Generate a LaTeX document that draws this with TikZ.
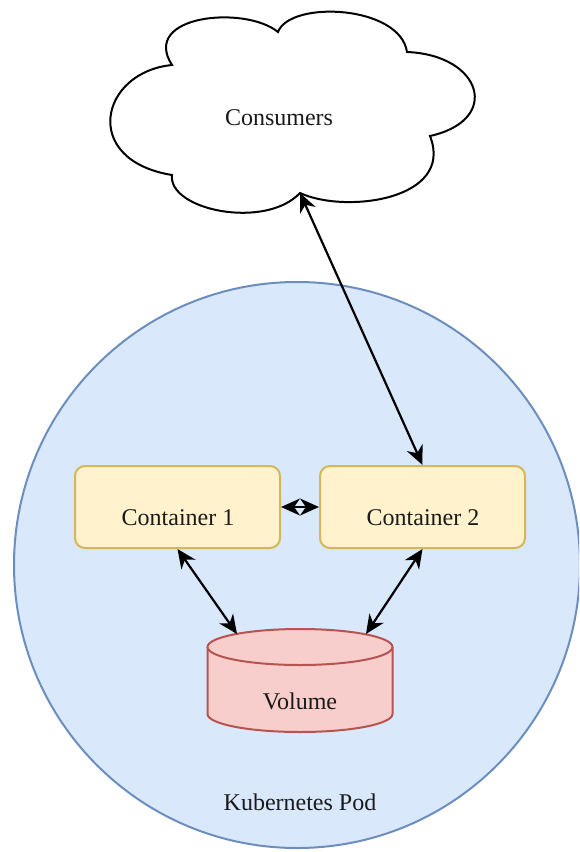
\documentclass[tikz,border=0pt]{standalone}
\usepackage{fontspec}
\setmainfont{Liberation Serif}
\usetikzlibrary{arrows.meta}
\definecolor{podfill}{HTML}{DAE8FC}
\definecolor{podline}{HTML}{6C8EBF}
\definecolor{boxfill}{HTML}{FFF2CC}
\definecolor{boxline}{HTML}{D6B656}
\definecolor{volfill}{HTML}{F8CECC}
\definecolor{volline}{HTML}{B85450}
\definecolor{txtcol}{HTML}{1A1A1A}
\tikzset{
  txt/.style={font=\fontsize{24}{28}\selectfont, text=txtcol, inner sep=0pt},
  cbox/.style={draw=boxline, fill=boxfill, line width=2pt, rounded corners=10pt,
    minimum width=205pt, minimum height=82pt, inner sep=0pt},
  tipk/.style={Stealth[length=19pt,width=17pt,inset=6pt]},
  conn/.style={line width=2.2pt, {Stealth[length=19pt,width=17pt,inset=6pt]}-{Stealth[length=19pt,width=17pt,inset=6pt]}},
}
\begin{document}
\begin{tikzpicture}[x=1pt,y=-1pt]
\useasboundingbox (0,0) rectangle (579,852);
\begin{scope}
\clip (0,0) rectangle (579,852);
% pod
\draw[fill=podfill, draw=podline, line width=2pt] (297,565) circle[radius=283pt];
\end{scope}
\node[txt] (podlabel) at (300,802) {Kubernetes Pod};
% cloud
\draw[line width=2pt, fill=white]
  (172,65) .. controls (100,72) and (80,160) .. (172,175)
  .. controls (168,210) and (265,230) .. (300,193)
  .. controls (345,214) and (455,200) .. (430,136)
  .. controls (502,120) and (482,55) .. (407,52)
  .. controls (400,5) and (290,0) .. (278,32)
  .. controls (245,5) and (140,15) .. (172,65) -- cycle;
\node[txt] (cons) at (279,118) {Consumers};
\coordinate (cloudb) at (300,193);
% containers
\node[cbox] (c1) at (177.5,507) {};
\node[cbox] (c2) at (422.5,507) {};
\node[txt] (c1t) at (178,518) {Container 1};
\node[txt] (c2t) at (423,518) {Container 2};
% volume
\path[fill=volfill] (207.5,647) -- (207.5,714) arc[start angle=180,end angle=360,x radius=92.5pt,y radius=18pt] -- (392.5,647) -- cycle;
\draw[draw=volline, line width=2pt] (207.5,647) -- (207.5,714) arc[start angle=180,end angle=360,x radius=92.5pt,y radius=18pt] -- (392.5,647);
\draw[draw=volline, fill=volfill, line width=2pt] (300,647) ellipse[x radius=92.5pt, y radius=18pt];
\node[txt] (volt) at (300,701) {Volume};
\coordinate (voll) at (237,634);
\coordinate (volr) at (366,634);
% connectors
\draw[conn] (cloudb) -- (c2.north);
\draw[conn] (c1.east) -- (c2.west);
\draw[conn] (c1.south) -- (voll);
\draw[conn] (c2.south) -- (volr);
\end{tikzpicture}
\end{document}
